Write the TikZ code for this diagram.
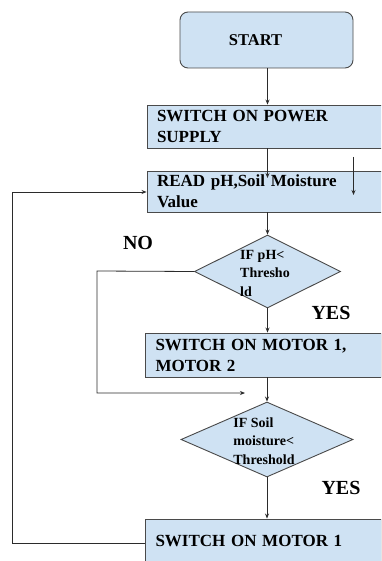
\documentclass[tikz,border=0pt]{standalone}
\usepackage{fontspec}
\setmainfont{Liberation Serif}
\usetikzlibrary{shapes.geometric,arrows.meta}
\definecolor{boxblue}{HTML}{CFE2F3}
\definecolor{edgegray}{HTML}{4A4A4A}
\definecolor{linegray}{HTML}{2B2B2B}
\tikzset{
  procbox/.style={draw=edgegray, line width=0.9pt, fill=boxblue, rectangle,
    minimum width=236pt, text width=216pt, align=left, inner xsep=10pt,
    font=\fontsize{17}{21}\selectfont\bfseries},
  startbox/.style={draw=edgegray, line width=0.9pt, fill=boxblue, rectangle,
    rounded corners=8pt, minimum width=173pt, minimum height=56pt,
    font=\fontsize{16.5}{20}\selectfont\bfseries},
  decision/.style={draw=edgegray, line width=0.9pt, fill=boxblue, diamond,
    inner sep=0pt},
  dtext/.style={align=left, inner sep=0pt,
    font=\fontsize{14}{18.5}\selectfont\bfseries},
  answer/.style={inner sep=0pt, font=\fontsize{20}{24}\selectfont\bfseries},
  conn/.style={draw=linegray, line width=0.8pt},
  arr/.style={conn, -{Stealth[length=5pt,width=4pt]}},
}
\begin{document}
\begin{tikzpicture}[x=1pt,y=-1pt]
\clip (0,0) rectangle (381,561);
\fill[white] (0,0) rectangle (381,561);

\node[startbox] (start) at (266.5,40) {\hspace*{-22pt}START};
\node[procbox, minimum height=43pt] (power) at (265,126.5) {SWITCH ON POWER\\SUPPLY};
\node[procbox, minimum height=41pt] (read) at (265,191.5) {READ pH,Soil Moisture\\Value};
\node[decision, minimum width=146pt, minimum height=73pt] (d1) at (267.5,271.5) {};
\node[dtext] (d1t) at (265,273) {IF pH<\\Thresho\\ld};
\node[procbox, minimum height=44pt] (m12) at (263.5,355) {SWITCH ON MOTOR 1,\\MOTOR 2};
\node[decision, minimum width=172pt, minimum height=75pt] (d2) at (267,439.5) {};
\node[dtext] (d2t) at (264,441) {IF Soil\\moisture<\\Threshold};
\node[procbox, minimum height=43pt] (m1) at (263.5,540.5) {\raisebox{-3pt}{SWITCH ON MOTOR 1}};

\node[answer] (no) at (138,243) {NO};
\node[answer] (yes1) at (331,313) {YES};
\node[answer] (yes2) at (341,488) {YES};

\coordinate (pin) at (267.5,178);
\coordinate (xa) at (353.5,157);
\coordinate (xb) at (353.5,195);
\coordinate (nodrop) at (245,393);
\coordinate (l1) at (97,271);
\coordinate (l2) at (97,393);
\coordinate (r1) at (12,543);
\coordinate (r2) at (12,192);

\draw[arr] (start.south -| pin) -- (power.north -| pin);
\draw[arr] (power.south -| pin) -- (pin);
\draw[arr] (xa) -- (xb);
\draw[arr] (read.south -| d1.north) -- (d1.north);
\draw[arr] (d1.south) -- (m12.north -| d1.south);
\draw[arr] (d1.west) -- (l1) -- (l2) -- (nodrop);
\draw[arr] (m12.south -| d2.north) -- (d2.north);
\draw[arr] (d2.south) -- (m1.north -| d2.south);
\draw[arr] (m1.west |- r1) -- (r1) -- (r2) -- (read.west |- r2);
\end{tikzpicture}
\end{document}
